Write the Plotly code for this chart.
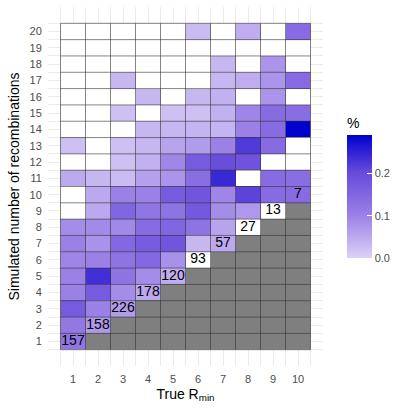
import numpy as np
import plotly.graph_objects as go

# true minimum number of recombinations (x) and simulated number (y)
r_min = list(range(1, 11))
sim_rec = list(range(1, 21))

# share of simulations per cell, listed for simulated = 1..20 (None = no data)
pct_rmin_1 = [0.12, 0.115, 0.17, 0.10, 0.10, 0.095, 0.10, 0.085, None, None,
              0.048, None, 0.022, None, None, None, None, None, None, None]
pct_rmin_2 = [None, 0.07, 0.10, 0.17, 0.232, 0.10, 0.078, 0.088, 0.05, 0.05,
              0.032, None, None, None, None, None, None, None, None, None]
pct_rmin_3 = [None, None, 0.065, 0.085, 0.125, 0.125, 0.145, 0.09, 0.15, 0.10,
              0.027, 0.022, 0.022, None, 0.022, None, 0.032, None, None, None]
pct_rmin_4 = [None, None, None, 0.05, 0.085, 0.145, 0.17, 0.14, 0.12, 0.10,
              0.06, 0.04, 0.032, 0.032, None, 0.032, None, None, None, None]
pct_rmin_5 = [None, None, None, None, 0.045, 0.08, 0.18, 0.15, 0.125, 0.17,
              0.075, 0.092, 0.055, 0.032, 0.022, None, None, None, None, None]
pct_rmin_6 = [None, None, None, None, None, None, 0.032, 0.125, 0.175, 0.18,
              0.135, 0.17, 0.065, 0.036, 0.022, 0.032, None, None, None, 0.027]
pct_rmin_7 = [None, None, None, None, None, None, 0.05, 0.055, 0.085, 0.095,
              0.24, 0.195, 0.10, 0.036, 0.04, 0.04, 0.032, 0.032, None, None]
pct_rmin_8 = [None, None, None, None, None, None, None, None, 0.07, 0.21,
              None, 0.185, 0.22, 0.10, 0.095, None, 0.045, None, None, 0.045]
pct_rmin_9 = [None, None, None, None, None, None, None, None, None, 0.14,
              0.14, None, 0.14, 0.14, 0.14, 0.075, 0.075, 0.075, None, None]
pct_rmin_10 = [None, None, None, None, None, None, None, None, None, 0.14,
               0.135, None, None, 0.288, 0.135, None, 0.14, None, None, 0.14]

# number of simulations for each true R_min (printed on the diagonal)
diag_counts = [157, 158, 226, 178, 120, 93, 57, 27, 13, 7]

columns = [pct_rmin_1, pct_rmin_2, pct_rmin_3, pct_rmin_4, pct_rmin_5,
           pct_rmin_6, pct_rmin_7, pct_rmin_8, pct_rmin_9, pct_rmin_10]

z_pct = np.array([[np.nan if v is None else v for v in col] for col in columns]).T
# white for possible cells, grey where simulated < true
z_bg = np.array([[1 if y < x else 0 for x in r_min] for y in sim_rec])

fig = go.Figure()

fig.add_trace(go.Heatmap(
    x=r_min, y=sim_rec, z=z_bg,
    colorscale=[[0, "white"], [1, "#7F7F7F"]],
    zmin=0, zmax=1, showscale=False, hoverinfo="skip",
))

fig.add_trace(go.Heatmap(
    x=r_min, y=sim_rec, z=z_pct,
    colorscale=[[0, "#DCD2F7"], [0.175, "#BBA8EE"], [0.35, "#9A80E6"],
                [0.7, "#664ADB"], [1, "#0000CD"]],
    zmin=0, zmax=0.288,
    colorbar=dict(
        title=dict(text="%", side="top", font=dict(size=14, color="black")),
        x=1.087, xanchor="left", xref="paper", xpad=0, ypad=0,
        y=0.2995, yanchor="bottom", len=0.40, lenmode="fraction",
        thickness=25, outlinewidth=0,
        tickvals=[0, 0.1, 0.2], ticktext=["0.0", "0.1", "0.2"],
        ticks="inside", ticklen=5, tickcolor="white",
        tickfont=dict(size=11, color="#4D4D4D"),
    ),
    hoverinfo="skip",
))

# tile borders
bx, by = [], []
x_lo, x_hi = r_min[0] - 0.5, r_min[-1] + 0.5
y_lo, y_hi = sim_rec[0] - 0.5, sim_rec[-1] + 0.5
for x in np.arange(x_lo, x_hi + 0.01, 1.0):
    bx += [x, x, None]
    by += [y_lo, y_hi, None]
for y in np.arange(y_lo, y_hi + 0.01, 1.0):
    bx += [x_lo, x_hi, None]
    by += [y, y, None]
fig.add_trace(go.Scatter(
    x=bx, y=by, mode="lines",
    line=dict(color="#333333", width=0.6),
    hoverinfo="skip", showlegend=False,
))

fig.add_trace(go.Scatter(
    x=r_min, y=r_min, mode="text",
    text=[str(c) for c in diag_counts],
    textfont=dict(size=14, color="black"),
    hoverinfo="skip", showlegend=False,
))

grid = "#EBEBEB"
fig.update_layout(
    width=414, height=414,
    margin=dict(l=48, r=91, t=7, b=48, autoexpand=False),
    paper_bgcolor="white", plot_bgcolor="white",
    font=dict(family="Liberation Sans, Arial, sans-serif", color="black"),
    showlegend=False,
)
fig.update_xaxes(
    range=[0, 11], tickvals=r_min, ticks="outside", ticklen=3,
    tickcolor="rgba(0,0,0,0)", automargin=False,
    tickfont=dict(size=11, color="#4D4D4D"),
    showgrid=True, gridcolor=grid, gridwidth=1, zeroline=False,
    minor=dict(tickvals=[v + 0.5 for v in [0] + r_min], showgrid=True,
               gridcolor=grid, gridwidth=0.5),
    title=dict(text="True R<sub>min</sub>", font=dict(size=14), standoff=4),
)
fig.update_yaxes(
    range=[-0.5, 21.5], tickvals=sim_rec, ticks="outside", ticklen=3,
    tickcolor="rgba(0,0,0,0)", automargin=False,
    tickfont=dict(size=11, color="#4D4D4D"),
    showgrid=True, gridcolor=grid, gridwidth=1, zeroline=False,
    minor=dict(tickvals=[v + 0.5 for v in [-1, 0] + sim_rec], showgrid=True,
               gridcolor=grid, gridwidth=0.5),
    title=dict(text="Simulated number of recombinations", font=dict(size=14),
               standoff=6),
)

# the page keeps the browser's default body margin otherwise
fig.write_html("out.html", config={"displayModeBar": False},
               post_script="document.body.style.margin='0';")
